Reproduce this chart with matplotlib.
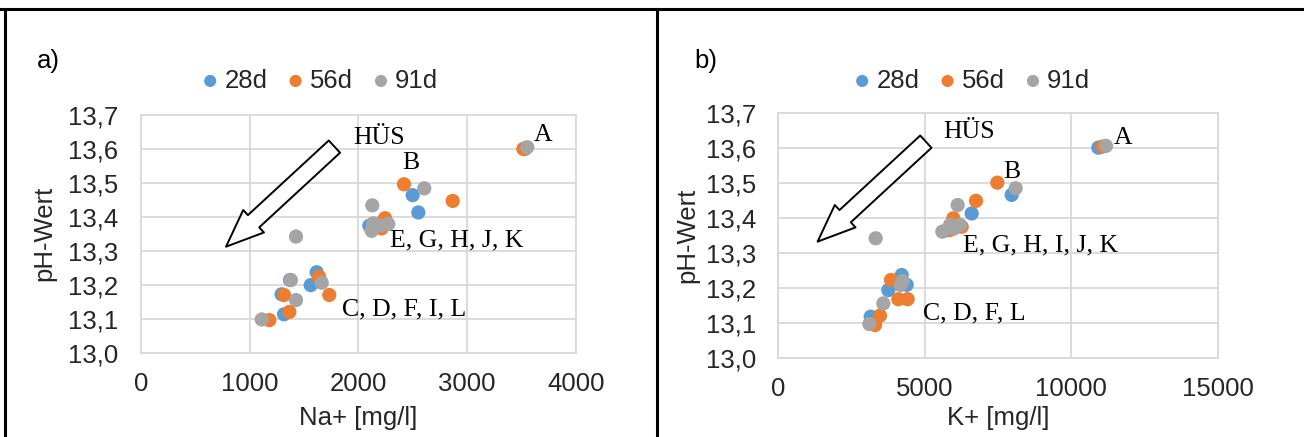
import matplotlib
matplotlib.use("Agg")
import matplotlib.pyplot as plt
from matplotlib.lines import Line2D
from matplotlib.ticker import FuncFormatter, MultipleLocator

# ---------------- data ----------------
series_labels = ["28d", "56d", "91d"]
series_colors = ["#5B9BD5", "#ED7D31", "#A5A5A5"]

# panel a) Na+ [mg/l] vs pH
na_28 = [3530, 2499, 2551, 2101, 2160, 2210, 1617, 1562, 1372, 1295, 1317, 1650]
ph_a_28 = [13.600, 13.464, 13.413, 13.374, 13.370, 13.380, 13.237, 13.199, 13.214, 13.172, 13.113, 13.210]
na_56 = [3516, 2419, 2867, 2245, 2214, 2190, 1638, 1733, 1317, 1366, 1182, 1640]
ph_a_56 = [13.600, 13.496, 13.447, 13.396, 13.366, 13.380, 13.224, 13.170, 13.170, 13.120, 13.096, 13.220]
na_91 = [3552, 2606, 2128, 2137, 2275, 2122, 2200, 1427, 1663, 1380, 1427, 1112]
ph_a_91 = [13.605, 13.484, 13.434, 13.381, 13.379, 13.359, 13.375, 13.342, 13.206, 13.214, 13.155, 13.098]

# panel b) K+ [mg/l] vs pH
k_28 = [10920, 7966, 6602, 5900, 6050, 5750, 4216, 4386, 3761, 3159, 4150, 3300]
ph_b_28 = [13.601, 13.466, 13.413, 13.370, 13.380, 13.365, 13.237, 13.209, 13.194, 13.118, 13.210, 13.100]
k_56 = [11069, 7477, 6750, 5977, 6262, 5864, 6100, 3852, 4102, 4420, 3477, 3307]
ph_b_56 = [13.604, 13.501, 13.449, 13.399, 13.375, 13.366, 13.380, 13.223, 13.168, 13.168, 13.121, 13.094]
k_91 = [11182, 8102, 6125, 5602, 5864, 6205, 6000, 3330, 4182, 4250, 3591, 3114]
ph_b_91 = [13.606, 13.485, 13.437, 13.361, 13.380, 13.380, 13.370, 13.342, 13.209, 13.220, 13.156, 13.097]

y_min, y_max, y_step = 13.0, 13.7, 0.1
xlim_a, xstep_a = (0, 4000), 1000
xlim_b, xstep_b = (0, 15000), 5000

xlabel_a = "Na+ [mg/l]"
xlabel_b = "K+ [mg/l]"
ylabel = "pH-Wert"

# group annotation labels (axes fraction positions)
labels_a = [("HÜS", 0.488, 0.905), ("A", 0.902, 0.916), ("B", 0.600, 0.797),
            ("E, G, H, J, K", 0.573, 0.474), ("C, D, F, I, L", 0.462, 0.180)]
labels_b = [("HÜS", 0.376, 0.924), ("A", 0.764, 0.897), ("B", 0.511, 0.760),
            ("E, G, H, I, J, K", 0.421, 0.461), ("C, D, F, L", 0.330, 0.182)]

# ---------------- figure ----------------
W, H, DPI = 1304, 437, 100
fig = plt.figure(figsize=(W / DPI, H / DPI), dpi=DPI)
plt.rcParams["font.family"] = ["Liberation Sans", "DejaVu Sans"]

FS = 18.5
TXT = "#262626"
GRID = "#D9D9D9"


def fmt_comma(v, pos):
    return f"{v:.1f}".replace(".", ",")


def make_panel(rect, xs, ys, xlim, xstep, xlabel, labels, arrow, legend_x, panel_tag, tag_x):
    ax = fig.add_axes(rect)
    for x, y, c, lab in zip(xs, ys, series_colors, series_labels):
        ax.scatter(x, y, s=105, color=c, edgecolors="none", label=lab, zorder=3)
    ax.set_xlim(*xlim)
    ax.set_ylim(y_min, y_max)
    ax.xaxis.set_major_locator(MultipleLocator(xstep))
    ax.yaxis.set_major_locator(MultipleLocator(y_step))
    ax.yaxis.set_major_formatter(FuncFormatter(fmt_comma))
    ax.grid(True, color=GRID, linewidth=1.3, zorder=0)
    ax.set_axisbelow(True)
    for sp in ax.spines.values():
        sp.set_color(GRID)
        sp.set_linewidth(1.3)
    ax.tick_params(length=0, labelsize=FS, labelcolor=TXT)
    ax.tick_params(axis="x", pad=14)
    ax.tick_params(axis="y", pad=16)
    ax.set_xlabel(xlabel, fontsize=FS, color=TXT)
    ax.set_ylabel(ylabel, fontsize=FS, color=TXT)

    for txt, fx, fy in labels:
        ax.text(fx, fy, txt, transform=ax.transAxes, fontsize=18.5,
                family=["Liberation Serif", "DejaVu Serif"], color="black",
                ha="left", va="center", zorder=5)

    (tx, ty), (hx, hy) = arrow
    ax.annotate("", xy=(hx, hy), xytext=(tx, ty), xycoords="axes fraction",
                textcoords="axes fraction",
                arrowprops=dict(arrowstyle="simple,head_width=2.2,head_length=2.7,tail_width=1.2",
                                mutation_scale=10, fc="white", ec="black", lw=1.4,
                                shrinkA=0, shrinkB=0),
                zorder=4)

    leg = ax.legend(loc="center", bbox_to_anchor=(legend_x, 1 - 80.7 / H),
                    bbox_transform=fig.transFigure, ncol=3, frameon=False,
                    fontsize=FS, handlelength=0.5, handletextpad=0.3,
                    columnspacing=0.85, markerscale=0.85, borderpad=0)
    for t in leg.get_texts():
        t.set_color(TXT)
    fig.text(tag_x, 1 - 61 / H, panel_tag, fontsize=FS, color="black",
             ha="left", va="center")
    return ax


ax_a = make_panel([140.7 / W, 1 - 352.7 / H, 435.3 / W, 237.7 / H],
                  [na_28, na_56, na_91], [ph_a_28, ph_a_56, ph_a_91],
                  xlim_a, xstep_a, xlabel_a, labels_a,
                  ((0.445, 0.867), (0.196, 0.446)), 321 / W, "a)", 37 / W)
ax_b = make_panel([778 / W, 1 - 358 / H, 440 / W, 245 / H],
                  [k_28, k_56, k_91], [ph_b_28, ph_b_56, ph_b_91],
                  xlim_b, xstep_b, xlabel_b, labels_b,
                  ((0.336, 0.883), (0.090, 0.475)), 973 / W, "b)", 694 / W)

ax_a.xaxis.set_label_coords(0.5, -(406 - 352.7) / 237.7)
ax_a.yaxis.set_label_coords(-(140.7 - 56) / 435.3, 0.5)
ax_b.xaxis.set_label_coords(0.5, -(406 - 358) / 245)
ax_b.yaxis.set_label_coords(-(778 - 699) / 440, 0.5)

# table-like black frame
lw = 2.2
fig.add_artist(Line2D([0, 1], [1 - 8.5 / H, 1 - 8.5 / H], color="black", lw=lw,
                      transform=fig.transFigure))
fig.add_artist(Line2D([5 / W, 5 / W], [0, 1 - 8.5 / H], color="black", lw=lw,
                      transform=fig.transFigure))
fig.add_artist(Line2D([657 / W, 657 / W], [0, 1 - 8.5 / H], color="black", lw=lw,
                      transform=fig.transFigure))

fig.savefig("out.png", dpi=DPI, facecolor="white")
